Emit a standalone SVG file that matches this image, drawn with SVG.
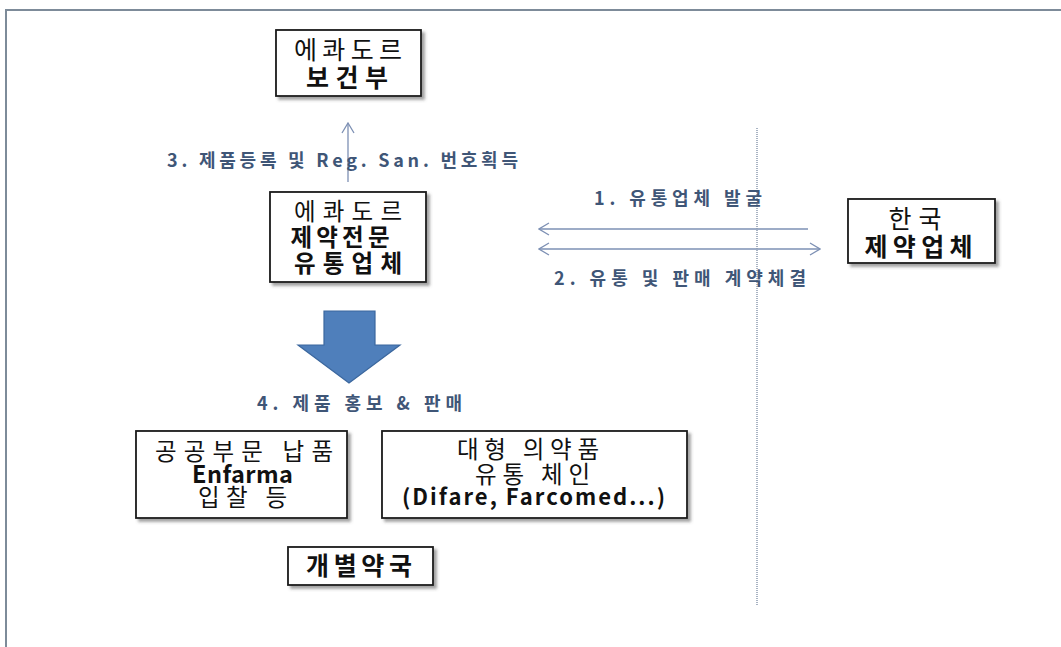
<svg xmlns="http://www.w3.org/2000/svg" width="1061" height="647" viewBox="0 0 1061 647">
<defs>
<filter id="sh" x="-10%" y="-10%" width="130%" height="140%">
<feDropShadow dx="3" dy="3" stdDeviation="1.5" flood-color="#555" flood-opacity="0.55"/>
</filter>
<marker id="chev" viewBox="0 0 12 14" refX="11" refY="7" markerWidth="12" markerHeight="14" markerUnits="userSpaceOnUse" orient="auto-start-reverse">
<path d="M1,1 L11,7 L1,13" fill="none" stroke="#7d90b4" stroke-width="1.3"/>
</marker>
<style>
.box{fill:#fff;stroke:#1a1a1a;stroke-width:1.8;filter:url(#sh)}
.t{font-family:"Noto Sans CJK KR","Noto Sans",sans-serif;font-size:25px;fill:#111;text-anchor:middle}
.s{font-size:23.5px}
.e{font-size:22px}
.b{font-weight:bold}
.lbl{font-family:"Noto Sans CJK KR","Noto Sans",sans-serif;font-size:18px;font-weight:bold;fill:#3f5677}
.con{stroke:#7d90b4;stroke-width:1.3;fill:none}
</style>
</defs>
<rect x="6" y="10" width="1100" height="700" fill="#fff" stroke="#7d8b99" stroke-width="2"/>

<g id="connectors">
<line class="con" x1="348" y1="182" x2="348" y2="123" marker-end="url(#chev)"/>
<line class="con" x1="808" y1="229" x2="539" y2="229" marker-end="url(#chev)"/>
<line class="con" x1="539" y1="249" x2="820" y2="249" marker-start="url(#chev)" marker-end="url(#chev)"/>
<polygon points="324,311 375,311 375,345 400,345 349,383 298,345 324,345" fill="#4f7fbb" stroke="#3b679e" stroke-width="1.2"/>
</g>

<line id="divider" x1="757" y1="128" x2="757" y2="605" stroke="#8c9bb0" stroke-width="1.5" stroke-dasharray="1 1"/>

<g id="labels">
<text class="lbl" x="167" y="166.5" textLength="351" lengthAdjust="spacing">3. 제품등록 및 Reg. San. 번호획득</text>
<text class="lbl" x="594" y="204.5" textLength="168" lengthAdjust="spacing">1. 유통업체 발굴</text>
<text class="lbl" x="554" y="284.5" textLength="252" lengthAdjust="spacing">2. 유통 및 판매 계약체결</text>
<text class="lbl" x="257" y="409.5" textLength="205" lengthAdjust="spacing">4. 제품 홍보 &amp; 판매</text>
</g>

<g id="node-moh">
<rect class="box" x="276" y="30" width="145" height="66"/>
<text class="t" x="348" y="59" textLength="108" lengthAdjust="spacing">에콰도르</text>
<text class="t b" x="347" y="86.5" textLength="82" lengthAdjust="spacing">보건부</text>
</g>

<g id="node-distributor">
<rect class="box" x="270" y="192" width="156" height="90"/>
<text class="t s" x="348" y="219.5" textLength="108" lengthAdjust="spacing">에콰도르</text>
<text class="t s b" x="340" y="246" textLength="99" lengthAdjust="spacing">제약전문</text>
<text class="t s b" x="348" y="271.5" textLength="108" lengthAdjust="spacing">유통업체</text>
</g>

<g id="node-korea">
<rect class="box" x="848" y="199" width="147" height="64"/>
<text class="t" x="915" y="228" textLength="53" lengthAdjust="spacing">한국</text>
<text class="t b" x="918.5" y="256" textLength="108" lengthAdjust="spacing">제약업체</text>
</g>

<g id="node-public">
<rect class="box" x="136" y="431" width="211" height="87"/>
<text class="t s" x="244" y="460" textLength="178" lengthAdjust="spacing">공공부문 납품</text>
<text class="t s b" x="242.5" y="483" textLength="101" lengthAdjust="spacing">Enfarma</text>
<text class="t s" x="242.5" y="506" textLength="89" lengthAdjust="spacing">입찰 등</text>
</g>

<g id="node-chain">
<rect class="box" x="382" y="431" width="305" height="87"/>
<text class="t s" x="528" y="458" textLength="142" lengthAdjust="spacing">대형 의약품</text>
<text class="t s" x="532.5" y="483" textLength="115" lengthAdjust="spacing">유통 체인</text>
<text class="t e b" x="533.5" y="505" textLength="263" lengthAdjust="spacing">(Difare, Farcomed...)</text>
</g>

<g id="node-pharmacy">
<rect class="box" x="288" y="547" width="145" height="38"/>
<text class="t b" x="359" y="575" textLength="106" lengthAdjust="spacing">개별약국</text>
</g>
</svg>
